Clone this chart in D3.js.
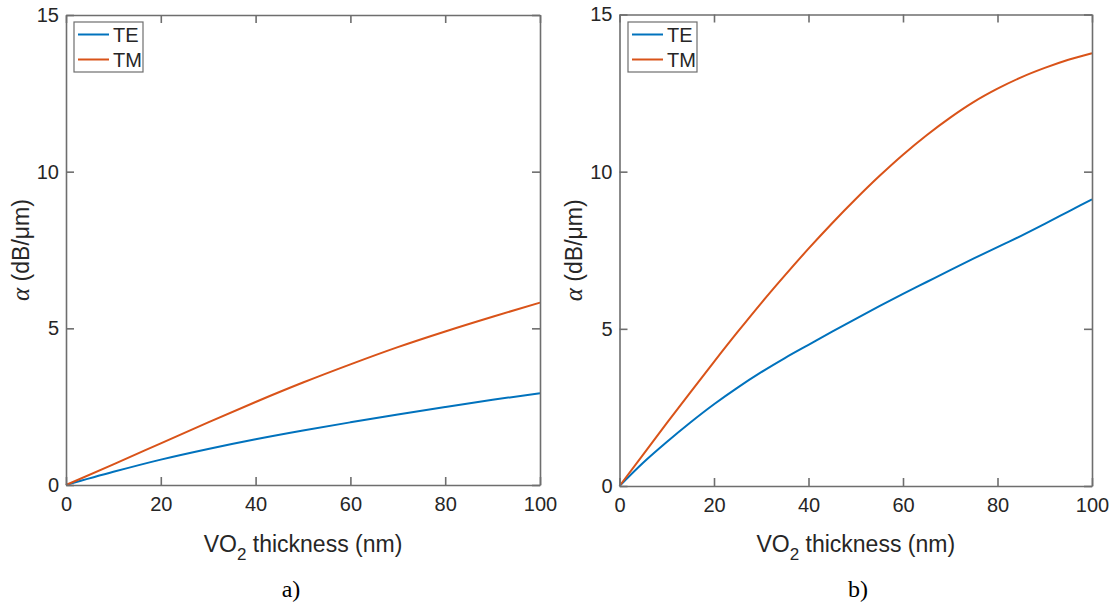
<!DOCTYPE html>
<html>
<head>
<meta charset="utf-8">
<script src="https://cdn.jsdelivr.net/npm/d3@7"></script>
<style>
  html, body { margin: 0; padding: 0; background: #fff; }
  svg { display: block; }
</style>
</head>
<body>
<svg id="fig" width="1116" height="604"></svg>
<script>
// Loss coefficient vs VO2 film thickness for TE and TM modes
const seriesNames = ["TE", "TM"];
const seriesColors = ["#0072BD", "#D95319"];
const panelCaptions = ["a)", "b)"];
const xTicks = [0, 20, 40, 60, 80, 100];
const yTicks = [0, 5, 10, 15];

// panel a
const thicknessA = [0, 10, 20, 30, 40, 50, 60, 70, 80, 90, 100];
const alphaA_TE = [0, 0.42, 0.81, 1.15, 1.46, 1.74, 2.00, 2.25, 2.49, 2.72, 2.93];
const alphaA_TM = [0, 0.66, 1.33, 2.00, 2.65, 3.27, 3.85, 4.40, 4.90, 5.37, 5.82];

// panel b
const thicknessB = [0, 5, 10, 15, 20, 25, 30, 35, 40, 45, 50, 55, 60, 65, 70, 75, 80, 85, 90, 95, 100];
const alphaB_TE = [0, 0.74, 1.40, 2.02, 2.60, 3.13, 3.62, 4.07, 4.49, 4.91, 5.32, 5.72, 6.11, 6.49, 6.87, 7.24, 7.60, 7.96, 8.34, 8.73, 9.12];
const alphaB_TM = [0, 1.00, 2.00, 2.98, 3.95, 4.90, 5.82, 6.70, 7.55, 8.36, 9.13, 9.86, 10.54, 11.16, 11.72, 12.22, 12.64, 13.00, 13.30, 13.56, 13.77];

const SANS = "Arial, 'Liberation Sans', sans-serif";
const SERIF = "'Liberation Serif', 'Times New Roman', serif";

const panels = [
  { x0: 66, x1: 540, y0: 485, y1: 15, labelX: 21, caption: panelCaptions[0], capX: 291,
    x: thicknessA, ys: [alphaA_TE, alphaA_TM], legend: { x: 74, y: 22 } },
  { x0: 619.5, x1: 1092, y0: 486, y1: 14.5, labelX: 574, caption: panelCaptions[1], capX: 858,
    x: thicknessB, ys: [alphaB_TE, alphaB_TM], legend: { x: 628, y: 22 } }
];

const svg = d3.select("#fig");
const axisGray = "#6e6e6e";
const textColor = "#262626";
const tickLen = 8;

panels.forEach(p => {
  const x = d3.scaleLinear().domain([0, 100]).range([p.x0, p.x1]);
  const y = d3.scaleLinear().domain([0, 15]).range([p.y0, p.y1]);
  const g = svg.append("g");

  // data lines
  p.ys.forEach((vals, i) => {
    const pts = p.x.map((t, k) => [t, vals[k]]);
    g.append("path")
      .datum(pts)
      .attr("fill", "none")
      .attr("stroke", seriesColors[i])
      .attr("stroke-width", 2)
      .attr("stroke-linejoin", "round")
      .attr("d", d3.line().curve(d3.curveMonotoneX).x(d => x(d[0])).y(d => y(d[1])));
  });

  // box axes with inward ticks; labels on bottom and left only
  const bottom = g.append("g").attr("transform", `translate(0,${p.y0})`)
    .call(d3.axisBottom(x).tickValues(xTicks).tickSizeInner(-tickLen).tickSizeOuter(0).tickPadding(12));
  const top = g.append("g").attr("transform", `translate(0,${p.y1})`)
    .call(d3.axisTop(x).tickValues(xTicks).tickSizeInner(-tickLen).tickSizeOuter(0).tickFormat(""));
  const left = g.append("g").attr("transform", `translate(${p.x0},0)`)
    .call(d3.axisLeft(y).tickValues(yTicks).tickSizeInner(-tickLen).tickSizeOuter(0).tickPadding(7));
  const right = g.append("g").attr("transform", `translate(${p.x1},0)`)
    .call(d3.axisRight(y).tickValues(yTicks).tickSizeInner(-tickLen).tickSizeOuter(0).tickFormat(""));

  [bottom, top, left, right].forEach(a => {
    a.select(".domain").attr("stroke", axisGray).attr("stroke-width", 1.6);
    a.selectAll(".tick line").attr("stroke", axisGray).attr("stroke-width", 1.6);
    a.selectAll(".tick text").attr("font-size", 20).attr("fill", textColor)
      .attr("font-family", SANS);
  });

  // x-axis title
  const xt = g.append("text")
    .attr("x", (p.x0 + p.x1) / 2).attr("y", 552)
    .attr("text-anchor", "middle").attr("font-size", 23)
    .attr("font-family", SANS).attr("fill", textColor);
  xt.append("tspan").text("VO");
  xt.append("tspan").attr("font-size", 17).attr("dy", 8).text("2");
  xt.append("tspan").attr("dy", -8).text(" thickness (nm)");

  // y-axis title
  const yt = g.append("text")
    .attr("transform", `translate(${p.labelX},${(p.y0 + p.y1) / 2}) rotate(-90)`)
    .attr("text-anchor", "middle").attr("font-size", 23).attr("dy", "0.35em")
    .attr("font-family", SANS).attr("fill", textColor);
  yt.append("tspan").attr("font-family", SERIF)
    .attr("font-style", "italic").attr("font-size", 25).text("α");
  yt.append("tspan").text(" (dB/μm)");

  // legend
  const lg = g.append("g").attr("transform", `translate(${p.legend.x},${p.legend.y})`);
  lg.append("rect").attr("width", 69).attr("height", 50)
    .attr("fill", "#fff").attr("stroke", axisGray).attr("stroke-width", 1.2);
  seriesNames.forEach((name, i) => {
    const yy = 12.5 + i * 25;
    lg.append("line").attr("x1", 4).attr("x2", 35).attr("y1", yy).attr("y2", yy)
      .attr("stroke", seriesColors[i]).attr("stroke-width", 2);
    lg.append("text").attr("x", 39).attr("y", yy + 7.5).attr("font-size", 20)
      .attr("font-family", SANS).attr("fill", textColor).text(name);
  });

  // panel caption
  svg.append("text")
    .attr("x", p.capX).attr("y", 597)
    .attr("text-anchor", "middle")
    .attr("font-family", SERIF)
    .attr("font-size", 24).attr("fill", "#000")
    .text(p.caption);
});
</script>
</body>
</html>
